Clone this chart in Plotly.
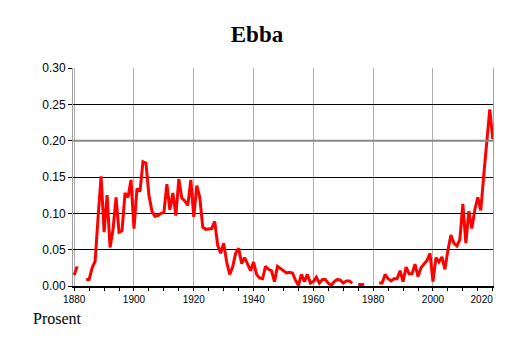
import plotly.graph_objects as go

years = list(range(1880, 2021))

values = [
    0.015, 0.027, None, None, 0.009, 0.009, 0.025, 0.034, 0.095, 0.151,   # 1880-1889
    0.074, 0.125, 0.053, 0.078, 0.122, 0.074, 0.076, 0.128, 0.122, 0.146,  # 1890-1899
    0.079, 0.134, 0.130, 0.171, 0.169, 0.125, 0.103, 0.096, 0.097, 0.100,  # 1900-1909
    0.101, 0.140, 0.105, 0.128, 0.097, 0.147, 0.121, 0.117, 0.111, 0.146,  # 1910-1919
    0.095, 0.138, 0.122, 0.081, 0.078, 0.078, 0.079, 0.089, 0.056, 0.045,  # 1920-1929
    0.059, 0.033, 0.016, 0.026, 0.045, 0.052, 0.031, 0.039, 0.029, 0.021,  # 1930-1939
    0.033, 0.016, 0.011, 0.010, 0.027, 0.023, 0.021, 0.006, 0.027, 0.024,  # 1940-1949
    0.020, 0.018, 0.019, 0.018, 0.008, 0.001, 0.016, 0.006, 0.016, 0.004,  # 1950-1959
    0.006, 0.012, 0.004, 0.009, 0.009, 0.004, 0.001, 0.006, 0.009, 0.008,  # 1960-1969
    0.004, 0.007, 0.007, 0.004, None, 0.002, 0.002, 0.002, None, None,     # 1970-1979
    None, None, 0.004, 0.004, 0.016, 0.010, 0.007, 0.010, 0.010, 0.021,    # 1980-1989
    0.006, 0.026, 0.017, 0.017, 0.030, 0.013, 0.025, 0.030, 0.035, 0.045,  # 1990-1999
    0.006, 0.039, 0.033, 0.040, 0.023, 0.049, 0.070, 0.059, 0.055, 0.064,  # 2000-2009
    0.113, 0.059, 0.103, 0.079, 0.105, 0.122, 0.104, 0.153, 0.201, 0.243,  # 2010-2019
    0.202,                                                                 # 2020
]

x_tick_vals = [1880, 1900, 1920, 1940, 1960, 1980, 2000, 2020]
x_tick_text = ["1880", "1900", "1920", "1940", "1960", "1980", "2000",
               "2020" + "\u00a0" * 8]
y_tick_vals = [0.0, 0.05, 0.10, 0.15, 0.20, 0.25, 0.30]
y_tick_text = ["0.00", "0.05", "0.10", "0.15", "0.20", "0.25", "0.30"]

title_text = "Ebba"
y_unit_text = "Prosent"

fig = go.Figure()
fig.add_trace(go.Scatter(
    x=years, y=values, mode="lines",
    line=dict(color="#ff0000", width=3),
    connectgaps=False, hoverinfo="skip", showlegend=False,
))

# special grey reference line at 0.20 (as in the original)
fig.add_shape(type="line", xref="paper", x0=0, x1=1, yref="y", y0=0.20, y1=0.20,
              line=dict(color="#888888", width=2), layer="above")

fig.update_layout(
    width=514, height=343,
    margin=dict(l=73, r=21, t=68, b=57, autoexpand=False),
    paper_bgcolor="white", plot_bgcolor="white",
    title=dict(text="<b>" + title_text + "</b>", x=0.5, xref="container", xanchor="center",
               y=1 - 34 / 343, yref="container", yanchor="middle",
               font=dict(family="Liberation Serif", size=23, color="black")),
    annotations=[dict(text=y_unit_text, xref="paper", yref="paper",
                      x=(31 - 73) / 420, y=(286 - 318) / 218,
                      xanchor="left", yanchor="middle", showarrow=False,
                      font=dict(family="Liberation Serif", size=16, color="black"))],
)

fig.update_xaxes(
    range=[1879.6, 2020.08], tickvals=x_tick_vals, ticktext=x_tick_text,
    showgrid=True, gridcolor="#b0b0b0", gridwidth=1,
    showline=True, linecolor="black", linewidth=1.5, mirror=False,
    ticks="outside", ticklen=3, tickcolor="black",
    minor=dict(dtick=5, tick0=1880, ticks="outside", ticklen=3, tickcolor="black", showgrid=False),
    tickfont=dict(family="Liberation Sans", size=10, color="black"),
    ticklabeloverflow="allow", automargin=False,
    zeroline=False,
)
fig.update_yaxes(
    range=[0, 0.30], tickvals=y_tick_vals, ticktext=y_tick_text,
    showgrid=True, gridcolor="black", gridwidth=1,
    showline=True, linecolor="#a0a0a0", linewidth=1, mirror=True,
    ticks="outside", ticklen=4, tickcolor="black",
    tickfont=dict(family="Liberation Sans", size=12, color="black"),
    automargin=False, zeroline=False,
)

fig.write_html("out.html")
